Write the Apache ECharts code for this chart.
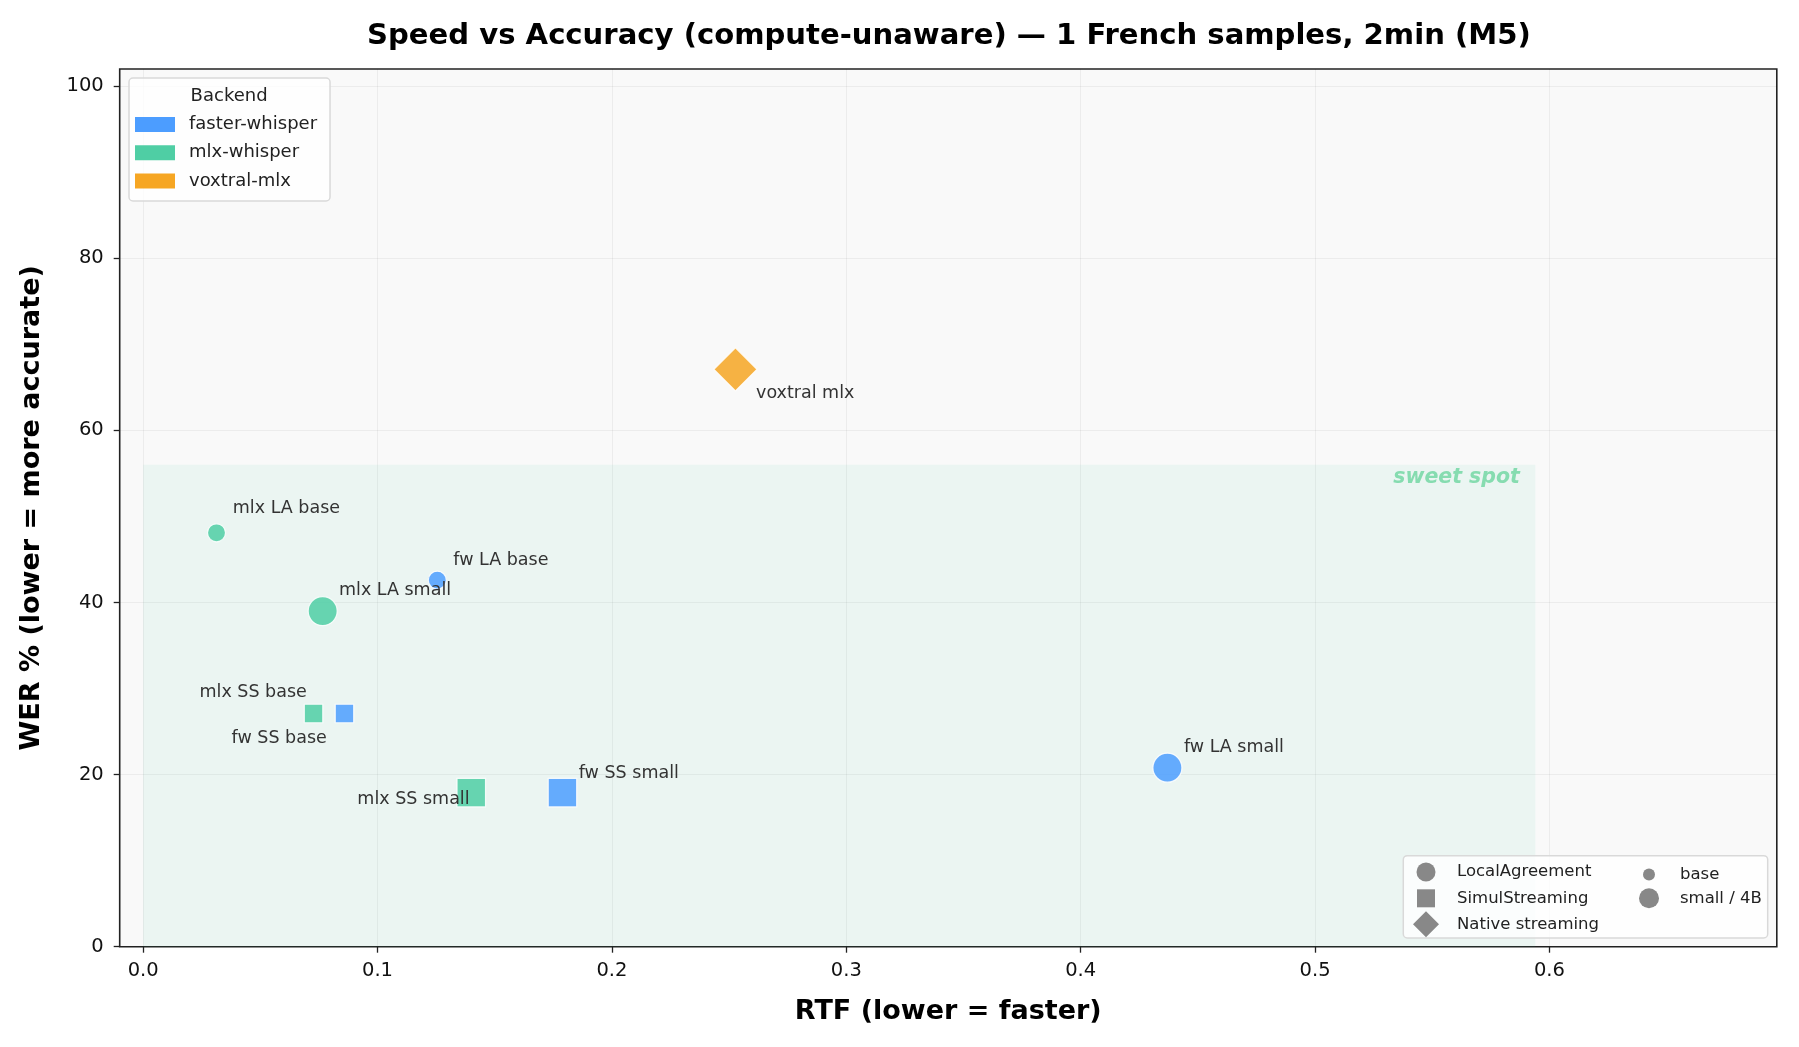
<!DOCTYPE html>
<html>
<head>
<meta charset="utf-8">
<script src="https://cdn.jsdelivr.net/npm/echarts@6/dist/echarts.min.js"></script>
<style>
  html, body { margin: 0; padding: 0; background: #ffffff; }
  #chart { width: 1799px; height: 1047px; }
</style>
</head>
<body>
<div id="chart"></div>
<script>
// ---------------- data ----------------
const backends = ['faster-whisper', 'mlx-whisper', 'voxtral-mlx'];
const policies = ['LocalAgreement', 'SimulStreaming', 'Native streaming'];
const modelSizes = ['base', 'small / 4B'];

const pointLabels  = ['fw LA base', 'fw LA small', 'fw SS base', 'fw SS small',
                      'mlx LA base', 'mlx LA small', 'mlx SS base', 'mlx SS small', 'voxtral mlx'];
const pointBackend = ['faster-whisper', 'faster-whisper', 'faster-whisper', 'faster-whisper',
                      'mlx-whisper', 'mlx-whisper', 'mlx-whisper', 'mlx-whisper', 'voxtral-mlx'];
const pointPolicy  = ['LocalAgreement', 'LocalAgreement', 'SimulStreaming', 'SimulStreaming',
                      'LocalAgreement', 'LocalAgreement', 'SimulStreaming', 'SimulStreaming', 'Native streaming'];
const pointModel   = ['base', 'small', 'base', 'small', 'base', 'small', 'base', 'small', '4B'];
const rtfValues    = [0.1255, 0.437, 0.0859, 0.1789, 0.0313, 0.0766, 0.0727, 0.140, 0.2527];
const werValues    = [42.6, 20.8, 27.1, 17.9, 48.1, 39.0, 27.1, 17.9, 67.1];

const xTicks = [0, 0.1, 0.2, 0.3, 0.4, 0.5, 0.6];
const yTicks = [0, 20, 40, 60, 80, 100];
const sweetSpotRtfMax = 0.594;
const sweetSpotWerMax = 56;

// ---------------- styles / layout ----------------
const FONT = 'DejaVu Sans';
const backendColors = { 'faster-whisper': '#4c9dff', 'mlx-whisper': '#4fcea4', 'voxtral-mlx': '#f6a623' };
const policySymbol = { 'LocalAgreement': 'circle', 'SimulStreaming': 'rect', 'Native streaming': 'diamond' };
function markerSize(policy, model) {
  if (policy === 'Native streaming') return 43;
  if (policy === 'LocalAgreement') return model === 'base' ? 18 : 29;
  return model === 'base' ? 18.5 : 28.5;
}
// label placement relative to marker center: [dx, dy, align]
const labelLayout = {
  'fw LA base':   [16, -20, 'left'],
  'fw LA small':  [16.5, -20.3, 'left'],
  'fw SS base':   [-17.7, 24.7, 'right'],
  'fw SS small':  [16.3, -19.7, 'left'],
  'mlx LA base':  [16.3, -24.6, 'left'],
  'mlx LA small': [16.3, -21, 'left'],
  'mlx SS base':  [-6.7, -21, 'right'],
  'mlx SS small': [-1.7, 7, 'right'],
  'voxtral mlx':  [20.6, 23.7, 'left']
};

const pointSeries = backends.map(function (b) {
  const data = [];
  for (let i = 0; i < pointLabels.length; i++) {
    if (pointBackend[i] !== b) continue;
    const lay = labelLayout[pointLabels[i]];
    data.push({
      name: pointLabels[i],
      value: [rtfValues[i], werValues[i]],
      symbol: policySymbol[pointPolicy[i]],
      symbolSize: markerSize(pointPolicy[i], pointModel[i]),
      label: {
        show: true, position: 'inside', offset: [lay[0], lay[1]],
        align: lay[2], verticalAlign: 'middle', opacity: 1,
        formatter: '{b}', color: '#333333', fontSize: 17.5, fontFamily: FONT
      }
    });
  }
  return {
    type: 'scatter', name: b, z: 3, data: data,
    itemStyle: { color: backendColors[b], opacity: 0.85, borderColor: '#ffffff', borderWidth: 1.2 },
    emphasis: { disabled: true }
  };
});

const legendDummySeries = policies.concat(modelSizes).map(function (n) {
  return { type: 'scatter', name: n, data: [], itemStyle: { color: '#888888' } };
});

const sweetSeries = {
  type: 'scatter', name: '__sweet', data: [], z: 1, silent: true,
  markArea: {
    silent: true,
    itemStyle: { color: 'rgba(79,206,164,0.08)' },
    label: {
      show: true, position: 'insideTopRight', distance: 0, offset: [-15.5, 2.5],
      color: '#86dcb0', fontSize: 20.5, fontWeight: 'bold', fontStyle: 'italic', fontFamily: FONT
    },
    data: [[{ name: 'sweet spot', coord: [0, 0] }, { coord: [sweetSpotRtfMax, sweetSpotWerMax] }]]
  }
};

const textBase = { fontFamily: FONT, color: '#222222' };
// icon size h, icon center x cx, text start x tx, row center y cy
function smallLegend(name, icon, h, cx, tx, cy) {
  const left = cx - h / 2;
  const pad = tx - (left + h + 5);
  return {
    show: true, orient: 'vertical', left: left, top: cy - h / 2, padding: 0,
    selectedMode: false, itemWidth: h, itemHeight: h,
    data: [{ name: name, icon: icon, itemStyle: { color: '#888888', borderWidth: 0, opacity: 1 } }],
    itemStyle: { borderWidth: 0, opacity: 1 },
    textStyle: Object.assign({ fontSize: 16.5, lineHeight: h, padding: [0, 0, 0, pad] }, textBase),
    z: 5
  };
}
const SQUARE = 'path://M0,0H10V10H0Z';
const DIAMOND = 'path://M10,0L20,10L10,20L0,10Z';
const legLA = smallLegend('LocalAgreement', 'circle', 19, 1426, 1457, 872);
const legSS = smallLegend('SimulStreaming', SQUARE, 18, 1426, 1457, 898.3);
const legNS = smallLegend('Native streaming', DIAMOND, 26, 1426, 1457, 924.3);
const legB  = smallLegend('base', 'circle', 12, 1649, 1680, 872);
const legS  = smallLegend('small / 4B', 'circle', 20, 1649, 1680, 898.3);

const option = {
  animation: false,
  backgroundColor: '#ffffff',
  title: [
    {
      text: 'Speed vs Accuracy (compute-unaware) — 1 French samples, 2min (M5)',
      left: 367, top: 21, padding: 0,
      textStyle: { fontFamily: FONT, fontSize: 29.1, fontWeight: 'bold', color: '#000', lineHeight: 30 }
    },
    {
      text: 'Backend', left: 190.6, top: 87, padding: 0, z: 8,
      textStyle: { fontFamily: FONT, fontSize: 18, fontWeight: 'normal', color: '#222', lineHeight: 18 }
    }
  ],
  grid: {
    left: 119.7, right: 22.2, top: 69, bottom: 100.3,
    show: true, backgroundColor: '#f9f9f9', borderColor: '#222222', borderWidth: 1.6
  },
  xAxis: {
    type: 'value', min: -0.01, max: 0.697,
    name: 'RTF (lower = faster)', nameLocation: 'middle', nameGap: 50.5,
    nameTextStyle: { fontFamily: FONT, fontSize: 27, fontWeight: 'bold', color: '#000', lineHeight: 30 },
    axisLine: { show: false, onZero: false },
    axisTick: { show: true, length: 6, lineStyle: { color: '#222', width: 1.3 }, customValues: xTicks },
    axisLabel: {
      customValues: xTicks, margin: 14, fontFamily: FONT, fontSize: 19.5, color: '#111', lineHeight: 20,
      formatter: function (v) { return v.toFixed(1); }
    },
    splitLine: { show: true, lineStyle: { color: 'rgba(0,0,0,0.05)', width: 1 } }
  },
  yAxis: {
    type: 'value', min: 0, max: 102,
    name: 'WER % (lower = more accurate)', nameLocation: 'middle', nameGap: 73,
    nameTextStyle: { fontFamily: FONT, fontSize: 27, fontWeight: 'bold', color: '#000', lineHeight: 30 },
    axisLine: { show: false, onZero: false },
    axisTick: { show: true, length: 6, lineStyle: { color: '#222', width: 1.3 }, customValues: yTicks },
    axisLabel: { customValues: yTicks, margin: 16, fontFamily: FONT, fontSize: 19.5, color: '#111' },
    splitLine: { show: true, lineStyle: { color: 'rgba(0,0,0,0.05)', width: 1 } }
  },
  legend: [
    {
      show: true, orient: 'vertical', left: 129, top: 78,
      padding: [37.5, 13, 11, 6], itemGap: 10.2,
      backgroundColor: 'rgba(255,255,255,0.8)', borderColor: '#d9d9d9', borderWidth: 1.5, borderRadius: 4,
      selectedMode: false, itemWidth: 40, itemHeight: 15,
      data: backends.map(function (b) {
        return { name: b, icon: 'rect', itemStyle: { color: backendColors[b], borderWidth: 0, opacity: 1 } };
      }),
      itemStyle: { borderWidth: 0, opacity: 1 },
      textStyle: Object.assign({ fontSize: 18, lineHeight: 15, padding: [0, 0, 0, 9] }, textBase),
      z: 5
    },
    legLA, legSS, legNS, legB, legS
  ],
  graphic: [
    {
      type: 'rect', z: 4, silent: true,
      shape: { x: 1403.3, y: 855.7, width: 364.4, height: 82.3, r: 4 },
      style: { fill: 'rgba(255,255,255,0.8)', stroke: '#d9d9d9', lineWidth: 1.5 }
    }
  ],
  series: [sweetSeries].concat(pointSeries, legendDummySeries)
};

const chart = echarts.init(document.getElementById('chart'), null, { renderer: 'canvas' });
chart.setOption(option);
</script>
</body>
</html>
